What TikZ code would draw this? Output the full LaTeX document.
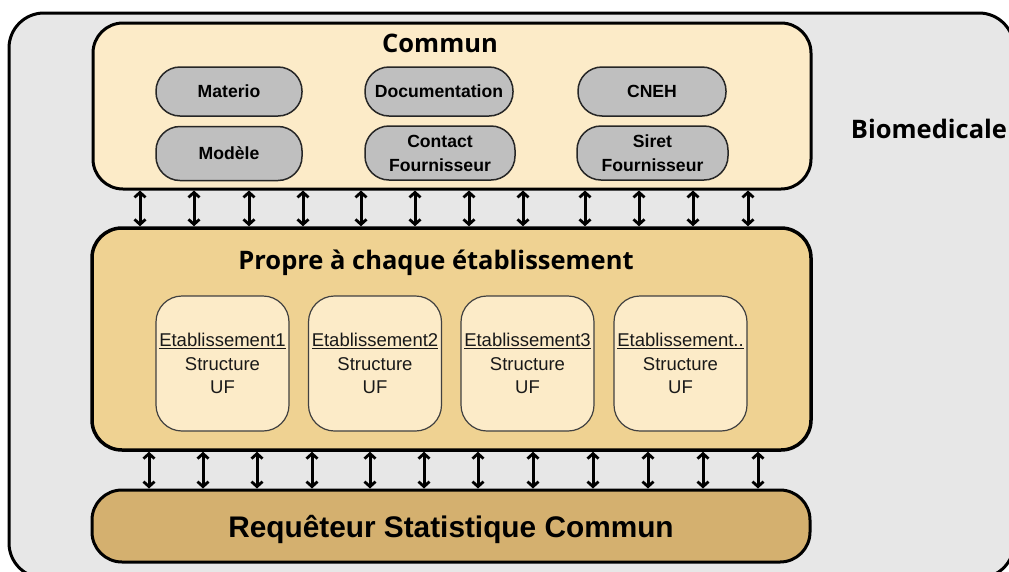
\documentclass[tikz,border=0pt]{standalone}
\usepackage{fontspec}
\setmainfont{Liberation Sans}
\newfontfamily\titlefont{Open Sans}
\usetikzlibrary{arrows.meta}

\definecolor{bggray}{HTML}{E7E7E7}
\definecolor{cream}{HTML}{FCEBC8}
\definecolor{sand}{HTML}{EFD292}
\definecolor{ochre}{HTML}{D4B06F}
\definecolor{pillgray}{HTML}{BFBFBF}

\tikzset{
  panel/.style={draw=black, line width=3pt, rounded corners=30pt, inner sep=0pt},
  pill/.style={draw=black!85, line width=1.5pt, fill=pillgray, rounded corners=24pt,
    inner sep=0pt, align=center, font=\fontsize{17.6}{24}\selectfont\bfseries},
  etab/.style={draw=black!75, line width=1.2pt, fill=cream, rounded corners=26pt,
    minimum width=133pt, minimum height=135pt, inner sep=0pt, align=center,
    font=\fontsize{18.5}{23.5}\selectfont, text=black!90},
  heading/.style={font=\titlefont\bfseries\fontsize{25.5}{30}\selectfont, inner sep=0pt},
  barb/.tip={Straight Barb[length=5pt,width=11pt,line width=2.8pt]},
  link/.style={barb-barb, line width=3pt}
}

\begin{document}
\begin{tikzpicture}[x=1pt,y=-1pt]
  \useasboundingbox (0,0) rectangle (1009,571);
  \clip (0,0) rectangle (1009,571);

  % outer domain
  \node[panel, fill=bggray, rounded corners=35pt, minimum width=1005pt, minimum height=565pt]
    (outer) at (511.5,295.5) {};
  \node[heading] (bio) at (929,129) {Biomedicale};

  % shared data
  \node[panel, fill=cream, minimum width=718pt, minimum height=166pt] (commun) at (452,106) {};
  \node[heading] (tcommun) at (440,43) {Commun};
  \node[pill, minimum width=146pt, minimum height=49pt] (materio) at (229,91.5) {Materio};
  \node[pill, minimum width=146pt, minimum height=54pt] (modele) at (229,153.5) {Modèle};
  \node[pill, minimum width=148pt, minimum height=49pt] (doc) at (439,91.5) {Documentation};
  \node[pill, minimum width=150pt, minimum height=54pt] (contact) at (440,153) {Contact\\Fournisseur};
  \node[pill, minimum width=148pt, minimum height=49pt] (cneh) at (652,91.5) {CNEH};
  \node[pill, minimum width=151pt, minimum height=54pt] (siret) at (652.5,153) {Siret\\Fournisseur};

  % per-site data
  \node[panel, fill=sand, line width=3.5pt, minimum width=719pt, minimum height=222pt] (propre) at (451.5,339) {};
  \node[heading] (tpropre) at (436,263) {Propre à chaque établissement};
  \node[etab] (e1) at (222.5,363.5) {\underline{Etablissement1}\\Structure\\UF};
  \node[etab] (e2) at (375,363.5) {\underline{Etablissement2}\\Structure\\UF};
  \node[etab] (e3) at (527.5,363.5) {\underline{Etablissement3}\\Structure\\UF};
  \node[etab] (e4) at (680.5,363.5) {\underline{Etablissement..}\\Structure\\UF};

  % common query tool
  \node[panel, fill=ochre, rounded corners=30pt, minimum width=718pt, minimum height=72pt,
    text depth=0pt, font=\bfseries\fontsize{29.8}{34}\selectfont] (req) at (451,526) {Requêteur Statistique Commun};

  % exchanges between layers
  \foreach \x in {140,194,249,303,361,415,469,523,585,639,693,748} {
    \coordinate (ta) at (\x,0);
    \draw[link] (commun.south -| ta) -- (propre.north -| ta);
  }
  \foreach \x in {149,203,257,312,370,424,478,533,593,648,703,758} {
    \coordinate (tb) at (\x,0);
    \draw[link] (propre.south -| tb) -- (req.north -| tb);
  }
\end{tikzpicture}
\end{document}
